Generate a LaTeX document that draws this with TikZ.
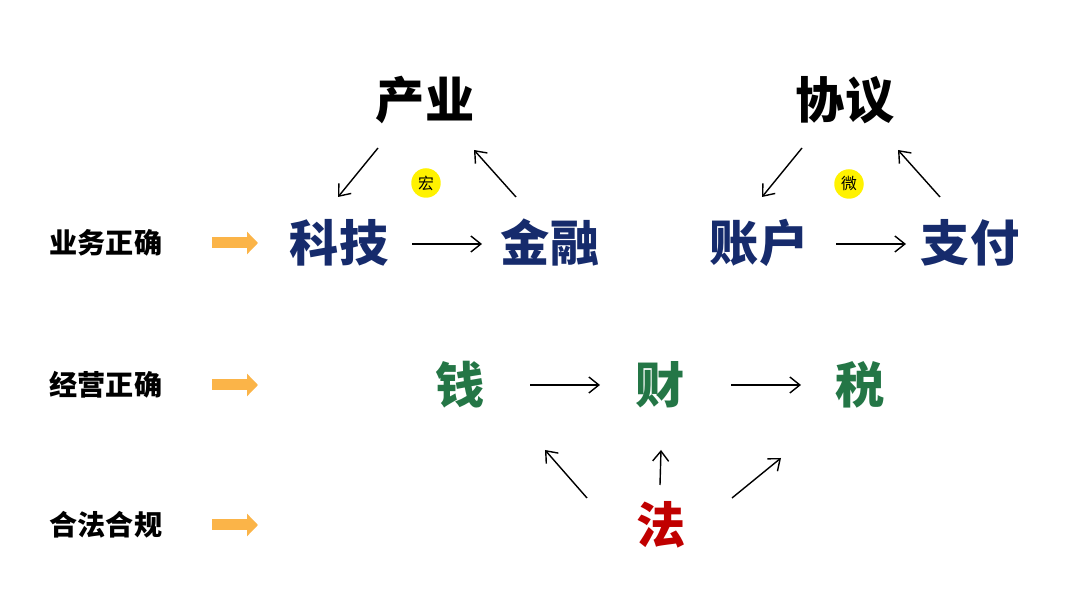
\documentclass[tikz,border=0pt]{standalone}
\usepackage{fontspec}
\usepackage{tikz}
\usetikzlibrary{arrows.meta}
\newfontfamily\cjk{Noto Sans CJK SC}[BoldFont={* Black}]
\definecolor{DeepNavy}{RGB}{22,43,108}
\definecolor{LawGreen}{RGB}{36,118,70}
\definecolor{LawRed}{RGB}{192,0,0}
\definecolor{HintOrange}{RGB}{251,180,72}
\definecolor{DotYellow}{RGB}{255,242,0}
\tikzset{
  head/.style={font=\cjk\bfseries\fontsize{28}{30}\selectfont,text=black,inner sep=0pt},
  blue/.style={font=\cjk\bfseries\fontsize{28}{30}\selectfont,text=DeepNavy,inner sep=0pt},
  green/.style={font=\cjk\bfseries\fontsize{28}{30}\selectfont,text=LawGreen,inner sep=0pt},
  red/.style={font=\cjk\bfseries\fontsize{28}{30}\selectfont,text=LawRed,inner sep=0pt},
  rowlabel/.style={font=\cjk\bfseries\fontsize{16}{18}\selectfont,text=black,inner sep=0pt},
  dot/.style={circle,fill=DotYellow,minimum size=0.59cm,inner sep=0pt,
    font=\cjk\fontsize{9}{10}\selectfont},
  arr/.style={draw=black,line width=0.8pt,-{Straight Barb[length=0.2cm,width=0.32cm]}},
  fat/.style={draw=HintOrange,line width=0.22cm,-{Triangle[length=0.22cm,width=0.44cm]}},
}

\begin{document}
\begin{tikzpicture}[x=0.02cm,y=-0.02cm]
\useasboundingbox (0,0) rectangle (1080,597);
% row labels
\node[rowlabel] (ywzq) at (106,243) {业务正确};
\node[rowlabel] (jyzq) at (106,385) {经营正确};
\node[rowlabel] (hfhg) at (106,525) {合法合规};
\draw[fat] ([shift={(106,0)}]ywzq.center) -- ([shift={(152,0)}]ywzq.center);
\draw[fat] ([shift={(106,0)}]jyzq.center) -- ([shift={(152,0)}]jyzq.center);
\draw[fat] ([shift={(106,0)}]hfhg.center) -- ([shift={(152,0)}]hfhg.center);
% macro triangle
\node[head] (chanye) at (425,100) {产业};
\node[blue] (keji) at (339,243) {科技};
\node[blue] (jinrong) at (550,243) {金融};
\node[dot] (hong) at (426,183) {宏};
\draw[arr] ([shift={(-47,48)}]chanye.center) -- ([shift={(-1,-46)}]keji.center);
\draw[arr] ([shift={(-34,-46)}]jinrong.center) -- ([shift={(49,50)}]chanye.center);
\draw[arr] ([shift={(73,1)}]keji.center) -- ([shift={(-68,1)}]jinrong.center);
% micro triangle
\node[head] (xieyi) at (845,100) {协议};
\node[blue] (zhanghu) at (759,243) {账户};
\node[blue] (zhifu) at (970,243) {支付};
\node[dot] (wei) at (849,184) {微};
\draw[arr] ([shift={(-43,48)}]xieyi.center) -- ([shift={(3,-46)}]zhanghu.center);
\draw[arr] ([shift={(-30,-46)}]zhifu.center) -- ([shift={(53,50)}]xieyi.center);
\draw[arr] ([shift={(77,1)}]zhanghu.center) -- ([shift={(-64,1)}]zhifu.center);
% money chain
\node[green] (qian) at (460,385) {钱};
\node[green] (cai) at (660,385) {财};
\node[green] (shui) at (860,385) {税};
\node[red] (fa) at (661,525) {法};
\draw[arr] ([shift={(70,0)}]qian.center) -- ([shift={(-60,0)}]cai.center);
\draw[arr] ([shift={(71,0)}]cai.center) -- ([shift={(-59,0)}]shui.center);
\draw[arr] ([shift={(-74,-27)}]fa.center) -- ([shift={(85,65)}]qian.center);
\draw[arr] ([shift={(-1,-40)}]fa.center) -- ([shift={(1,65)}]cai.center);
\draw[arr] ([shift={(71,-27)}]fa.center) -- ([shift={(-79,73)}]shui.center);
\end{tikzpicture}
\end{document}
